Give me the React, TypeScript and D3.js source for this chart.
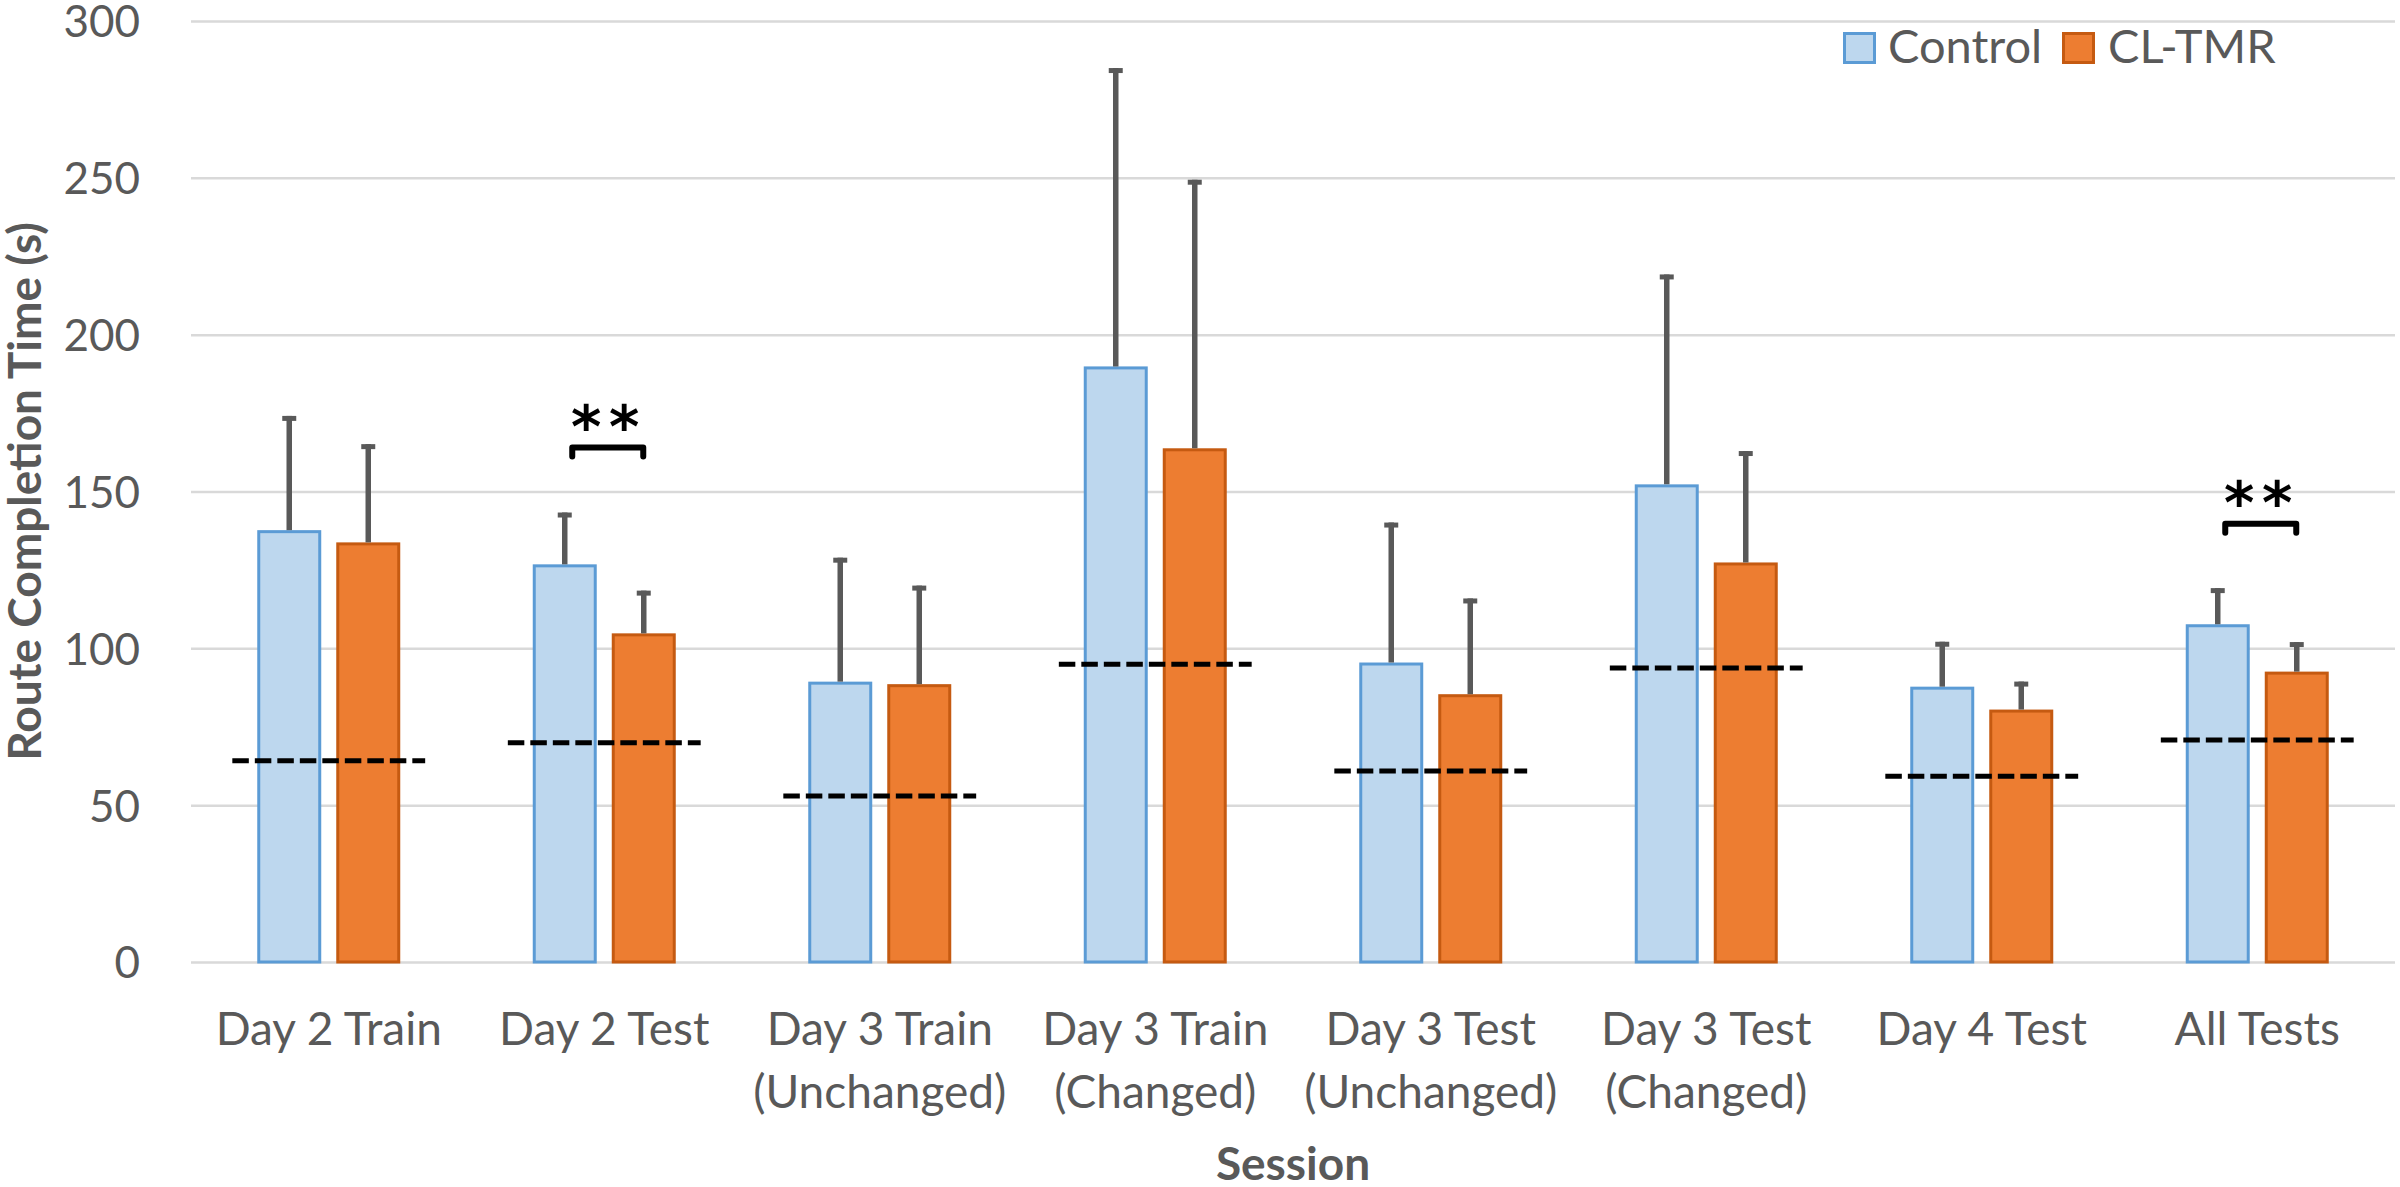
import { useEffect, useRef } from 'react';
import * as d3 from 'd3';

// sessions on the x axis (label lines as drawn under each group)
const sessions = [
  'Day 2 Train',
  'Day 2 Test',
  'Day 3 Train (Unchanged)',
  'Day 3 Train (Changed)',
  'Day 3 Test (Unchanged)',
  'Day 3 Test (Changed)',
  'Day 4 Test',
  'All Tests',
];
const sessionLines = [
  ['Day 2 Train'],
  ['Day 2 Test'],
  ['Day 3 Train', '(Unchanged)'],
  ['Day 3 Train', '(Changed)'],
  ['Day 3 Test', '(Unchanged)'],
  ['Day 3 Test', '(Changed)'],
  ['Day 4 Test'],
  ['All Tests'],
];

const series = ['Control', 'CL-TMR'];

// mean route completion time (s)
const controlMean = [137.2, 126.3, 88.9, 189.4, 95.0, 151.8, 87.3, 107.2];
const tmrMean = [133.3, 104.3, 88.1, 163.3, 84.9, 126.9, 80.0, 92.1];

// upper error bar length (s)
const controlErr = [36.9, 17.0, 40.0, 95.6, 45.1, 67.4, 14.8, 12.0];
const tmrErr = [31.8, 14.1, 31.9, 86.1, 31.0, 36.0, 9.4, 9.9];

// dashed reference line per session (s)
const referenceTime = [64.2, 69.9, 52.9, 94.9, 60.9, 93.7, 59.2, 70.8];

// significance brackets: session index and bracket height (s)
const significance = [
  { index: 1, value: 164.0, label: '**' },
  { index: 7, value: 139.7, label: '**' },
];

const yTicks = [0, 50, 100, 150, 200, 250, 300];

const colors = {
  Control: { fill: '#BDD7EE', stroke: '#5B9BD5' },
  'CL-TMR': { fill: '#ED7D31', stroke: '#C55A11' },
};

const App = () => {
  const svgRef = useRef<SVGSVGElement | null>(null);

  useEffect(() => {
    if (!svgRef.current) return;
    const width = 2400;
    const height = 1187;
    const margin = { top: 21, right: 5, bottom: 225, left: 191 };
    const textColor = '#595959';
    const font = 'Lato, Carlito, Calibri, sans-serif';

    const svg = d3.select(svgRef.current);
    svg.selectAll('*').remove();
    svg.attr('width', width).attr('height', height);

    const x0 = d3
      .scaleBand<string>()
      .domain(sessions)
      .range([margin.left, width - margin.right]);
    const band = x0.bandwidth();
    const x1 = d3.scaleBand<string>().domain(series).range([-71.5, 71.5]).paddingInner(0.19);
    const y = d3
      .scaleLinear()
      .domain([0, 300])
      .range([height - margin.bottom, margin.top]);

    // gridlines + tick labels
    const yAxis = svg
      .append('g')
      .attr('transform', `translate(${margin.left},0)`)
      .call(
        d3
          .axisLeft(y)
          .tickValues(yTicks)
          .tickSizeInner(-(width - margin.left - margin.right))
          .tickSizeOuter(0)
          .tickPadding(51)
      );
    yAxis.select('.domain').remove();
    yAxis.selectAll('line').attr('stroke', '#D9D9D9').attr('stroke-width', 2.5);
    yAxis
      .selectAll('text')
      .attr('fill', textColor)
      .attr('font-size', 44)
      .attr('font-family', font)
      .attr('dy', '0.36em');

    const rows = sessions.map((s, i) => ({
      session: s,
      values: [
        { key: 'Control', mean: controlMean[i], err: controlErr[i] },
        { key: 'CL-TMR', mean: tmrMean[i], err: tmrErr[i] },
      ],
    }));

    const groups = svg
      .selectAll('g.group')
      .data(rows)
      .join('g')
      .attr('class', 'group')
      .attr('transform', (d) => `translate(${x0(d.session)! + band / 2},0)`);

    // bars
    groups
      .selectAll('rect')
      .data((d) => d.values)
      .join('rect')
      .attr('x', (d) => x1(d.key)! + 1.5)
      .attr('width', x1.bandwidth() - 3)
      .attr('y', (d) => y(d.mean))
      .attr('height', (d) => y(0) - y(d.mean))
      .attr('fill', (d) => colors[d.key as keyof typeof colors].fill)
      .attr('stroke', (d) => colors[d.key as keyof typeof colors].stroke)
      .attr('stroke-width', 3);

    // error bars (upper only)
    const err = groups
      .selectAll('g.err')
      .data((d) => d.values)
      .join('g')
      .attr('class', 'err')
      .attr('stroke', '#595959')
      .attr('stroke-width', 5.5);
    err
      .append('line')
      .attr('x1', (d) => x1(d.key)! + x1.bandwidth() / 2)
      .attr('x2', (d) => x1(d.key)! + x1.bandwidth() / 2)
      .attr('y1', (d) => y(d.mean) - 1.5)
      .attr('y2', (d) => y(d.mean + d.err));
    err
      .append('line')
      .attr('x1', (d) => x1(d.key)! + x1.bandwidth() / 2 - 7)
      .attr('x2', (d) => x1(d.key)! + x1.bandwidth() / 2 + 7)
      .attr('y1', (d) => y(d.mean + d.err) + 2.5)
      .attr('y2', (d) => y(d.mean + d.err) + 2.5)
      .attr('stroke-width', 5);

    // dashed reference lines
    svg
      .append('g')
      .selectAll('line')
      .data(referenceTime)
      .join('line')
      .attr('x1', (_, i) => x0(sessions[i])! + band * 0.15)
      .attr('x2', (_, i) => x0(sessions[i])! + band * 0.85)
      .attr('y1', (d) => y(d))
      .attr('y2', (d) => y(d))
      .attr('stroke', '#000')
      .attr('stroke-width', 5)
      .attr('stroke-dasharray', '16.5 6');

    // significance brackets
    const sig = svg
      .append('g')
      .selectAll('g')
      .data(significance)
      .join('g')
      .attr('transform', (d) => `translate(${x0(sessions[d.index])! + band / 2},0)`);
    sig
      .append('path')
      .attr('d', (d) => {
        const yy = y(d.value);
        return `M-32,${yy + 9}V${yy}H39V${yy + 9}`;
      })
      .attr('fill', 'none')
      .attr('stroke', '#000')
      .attr('stroke-width', 6)
      .attr('stroke-linejoin', 'round')
      .attr('stroke-linecap', 'round');
    [-19, 19].forEach((dx) => {
      sig
        .append('text')
        .attr('x', dx + 1)
        .attr('y', (d) => y(d.value) - 1)
        .attr('text-anchor', 'middle')
        .attr('font-family', 'DejaVu Sans, sans-serif')
        .attr('font-weight', 'bold')
        .attr('font-size', 58)
        .attr('fill', '#000')
        .text('*');
    });

    // x tick labels
    const xl = svg
      .append('g')
      .selectAll('text')
      .data(sessionLines)
      .join('text')
      .attr('text-anchor', 'middle')
      .attr('font-family', font)
      .attr('font-size', 46)
      .attr('fill', textColor);
    xl.selectAll('tspan')
      .data((d, i) => d.map((line) => ({ line, i })))
      .join('tspan')
      .attr('x', (d) => x0(sessions[d.i])! + band / 2)
      .attr('y', (_, j) => 1045 + j * 63)
      .text((d) => d.line);

    // axis titles
    svg
      .append('text')
      .attr('x', (margin.left + width - margin.right) / 2)
      .attr('y', 1180)
      .attr('text-anchor', 'middle')
      .attr('font-family', font)
      .attr('font-weight', 'bold')
      .attr('font-size', 46)
      .attr('fill', textColor)
      .text('Session');
    svg
      .append('text')
      .attr('transform', `translate(41,${(y(0) + y(300)) / 2}) rotate(-90)`)
      .attr('text-anchor', 'middle')
      .attr('font-family', font)
      .attr('font-weight', 'bold')
      .attr('font-size', 46)
      .attr('fill', textColor)
      .text('Route Completion Time (s)');

    // legend
    const legendPos = [
      { key: 'Control', box: 1843, text: 1888 },
      { key: 'CL-TMR', box: 2062, text: 2108 },
    ];
    const legend = svg.append('g').selectAll('g').data(legendPos).join('g');
    legend
      .append('rect')
      .attr('x', (d) => d.box + 1.5)
      .attr('y', 33.5)
      .attr('width', 30)
      .attr('height', 29)
      .attr('fill', (d) => colors[d.key as keyof typeof colors].fill)
      .attr('stroke', (d) => colors[d.key as keyof typeof colors].stroke)
      .attr('stroke-width', 3);
    legend
      .append('text')
      .attr('x', (d) => d.text)
      .attr('y', 63)
      .attr('font-family', font)
      .attr('font-size', 47)
      .attr('fill', textColor)
      .text((d) => d.key);
  }, []);

  return <svg ref={svgRef} style={{ position: 'absolute', left: 0, top: 0, background: '#fff' }} />;
};

export default App;
